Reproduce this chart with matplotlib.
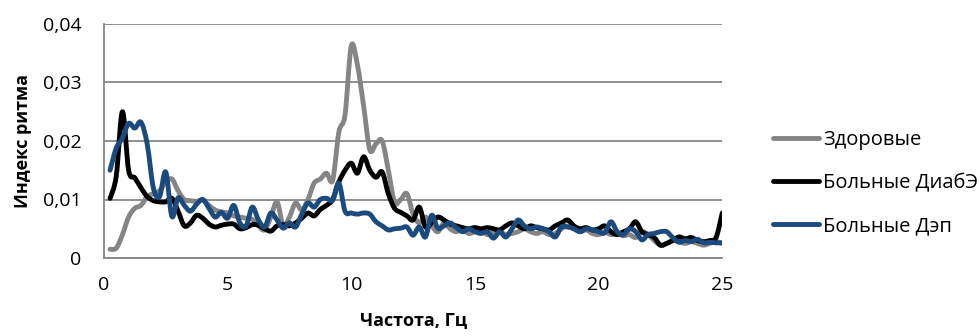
import numpy as np
import matplotlib
matplotlib.use("Agg")
from matplotlib import pyplot as plt
from matplotlib.path import Path
from matplotlib.patches import PathPatch
from matplotlib.lines import Line2D

plt.rcParams['font.family'] = ['Open Sans', 'DejaVu Sans']

# частоты спектра, Гц (шаг 0,25)
freq = np.arange(1, 101) * 0.25

healthy = [
    0.0015, 0.0017, 0.0040, 0.0070, 0.0085, 0.0090, 0.0105, 0.0110, 0.0115, 0.0130,
    0.0135, 0.0115, 0.0100, 0.0098, 0.0097, 0.0099, 0.0090, 0.0082, 0.0079, 0.0077,
    0.0072, 0.0070, 0.0068, 0.0066, 0.0055, 0.0048, 0.0070, 0.0096, 0.0055, 0.0070,
    0.0094, 0.0082, 0.0100, 0.0128, 0.0135, 0.0145, 0.0133, 0.0215, 0.0245, 0.0362,
    0.0330, 0.0260, 0.0185, 0.0195, 0.0200, 0.0150, 0.0095, 0.0100, 0.0110, 0.0075,
    0.0060, 0.0070, 0.0055, 0.0045, 0.0060, 0.0050, 0.0045, 0.0050, 0.0042, 0.0045,
    0.0048, 0.0040, 0.0043, 0.0045, 0.0040, 0.0042, 0.0045, 0.0050, 0.0045, 0.0042,
    0.0045, 0.0040, 0.0042, 0.0050, 0.0055, 0.0050, 0.0045, 0.0048, 0.0042, 0.0040,
    0.0045, 0.0040, 0.0042, 0.0038, 0.0040, 0.0035, 0.0045, 0.0040, 0.0030, 0.0022,
    0.0025, 0.0030, 0.0028, 0.0025, 0.0028, 0.0025, 0.0022, 0.0025, 0.0028, 0.0025,
]

diabe = [
    0.0102, 0.0140, 0.0250, 0.0150, 0.0137, 0.0120, 0.0105, 0.0098, 0.0096, 0.0096,
    0.0102, 0.0080, 0.0055, 0.0060, 0.0073, 0.0068, 0.0058, 0.0053, 0.0056, 0.0058,
    0.0058, 0.0050, 0.0052, 0.0057, 0.0056, 0.0050, 0.0046, 0.0055, 0.0057, 0.0055,
    0.0060, 0.0068, 0.0077, 0.0072, 0.0083, 0.0090, 0.0100, 0.0130, 0.0150, 0.0162,
    0.0145, 0.0173, 0.0150, 0.0138, 0.0147, 0.0110, 0.0085, 0.0078, 0.0072, 0.0065,
    0.0087, 0.0053, 0.0060, 0.0070, 0.0065, 0.0058, 0.0055, 0.0052, 0.0050, 0.0052,
    0.0050, 0.0052, 0.0050, 0.0048, 0.0055, 0.0060, 0.0055, 0.0050, 0.0055, 0.0052,
    0.0050, 0.0048, 0.0055, 0.0060, 0.0065, 0.0055, 0.0050, 0.0052, 0.0048, 0.0050,
    0.0055, 0.0045, 0.0040, 0.0045, 0.0050, 0.0062, 0.0045, 0.0040, 0.0035, 0.0022,
    0.0025, 0.0030, 0.0036, 0.0033, 0.0035, 0.0030, 0.0028, 0.0030, 0.0035, 0.0077,
]

dep = [
    0.0150, 0.0188, 0.0205, 0.0230, 0.0222, 0.0232, 0.0195, 0.0120, 0.0105, 0.0147,
    0.0071, 0.0103, 0.0090, 0.0080, 0.0092, 0.0100, 0.0085, 0.0070, 0.0078, 0.0068,
    0.0090, 0.0060, 0.0055, 0.0087, 0.0065, 0.0053, 0.0077, 0.0065, 0.0051, 0.0060,
    0.0053, 0.0075, 0.0094, 0.0087, 0.0100, 0.0102, 0.0099, 0.0128, 0.0080, 0.0077,
    0.0075, 0.0077, 0.0075, 0.0062, 0.0055, 0.0048, 0.0050, 0.0051, 0.0053, 0.0039,
    0.0053, 0.0036, 0.0073, 0.0051, 0.0055, 0.0060, 0.0052, 0.0045, 0.0050, 0.0045,
    0.0042, 0.0045, 0.0034, 0.0045, 0.0036, 0.0050, 0.0065, 0.0055, 0.0050, 0.0053,
    0.0050, 0.0045, 0.0036, 0.0053, 0.0053, 0.0050, 0.0045, 0.0050, 0.0048, 0.0045,
    0.0043, 0.0062, 0.0045, 0.0040, 0.0050, 0.0045, 0.0031, 0.0040, 0.0042, 0.0045,
    0.0045, 0.0035, 0.0027, 0.0030, 0.0028, 0.0032, 0.0026, 0.0027, 0.0026, 0.0026,
]

series_names = ['Здоровые', 'Больные ДиабЭ', 'Больные Дэп']
series_colors = ['#858585', '#000000', '#1b4a7e']
x_ticks = [0, 5, 10, 15, 20, 25]
y_ticks = [0, 0.01, 0.02, 0.03, 0.04]
y_tick_labels = ['0', '0,01', '0,02', '0,03', '0,04']

grid_col = '#868686'
LW = 3.5


def smooth_path(x, y):
    """Сглаженная линия (Catmull-Rom -> кубические Безье) через точки ряда."""
    p = np.column_stack([x, y])
    ext = np.vstack([p[0], p, p[-1]])
    verts = [p[0]]
    codes = [Path.MOVETO]
    for i in range(len(p) - 1):
        p0, p1, p2, p3 = ext[i], ext[i + 1], ext[i + 2], ext[i + 3]
        verts += [p1 + (p2 - p0) / 6, p2 - (p3 - p1) / 6, p2]
        codes += [Path.CURVE4] * 3
    return Path(verts, codes)


fig = plt.figure(figsize=(9.8, 3.36), dpi=100)
ax = fig.add_axes([0.106, 0.232, 0.631, 0.697])

handles = []
for vals, name, col in zip([healthy, diabe, dep], series_names, series_colors):
    ax.add_patch(PathPatch(smooth_path(freq, vals), fill=False, edgecolor=col,
                           lw=LW, joinstyle='round', capstyle='round'))
    handles.append(Line2D([], [], color=col, lw=LW, solid_capstyle='round', label=name))

ax.set_xlim(0, 25)
ax.set_ylim(0, 0.04)
ax.set_xticks(x_ticks)
ax.set_xticklabels([str(t) for t in x_ticks])
ax.set_yticks(y_ticks)
ax.set_yticklabels(y_tick_labels)
ax.tick_params(length=0, labelsize=14, colors='#000000')
ax.tick_params(axis='y', pad=16)
ax.tick_params(axis='x', pad=13)

ax.grid(axis='y', color=grid_col, lw=1.3)
ax.set_axisbelow(True)
for side in ['top', 'right']:
    ax.spines[side].set_visible(False)
for side in ['left', 'bottom']:
    ax.spines[side].set_color(grid_col)
    ax.spines[side].set_linewidth(1.3)

ax.set_xlabel('Частота, Гц', fontsize=13, fontweight='bold', labelpad=13)
ax.set_ylabel('Индекс ритма', fontsize=13, fontweight='bold', labelpad=8)

fig.legend(handles=handles, loc='center left', bbox_to_anchor=(0.77, 0.455),
           frameon=False, fontsize=14.5, handlelength=2.3, handletextpad=0.2,
           labelspacing=1.15)

fig.savefig('out.png', dpi=100)
